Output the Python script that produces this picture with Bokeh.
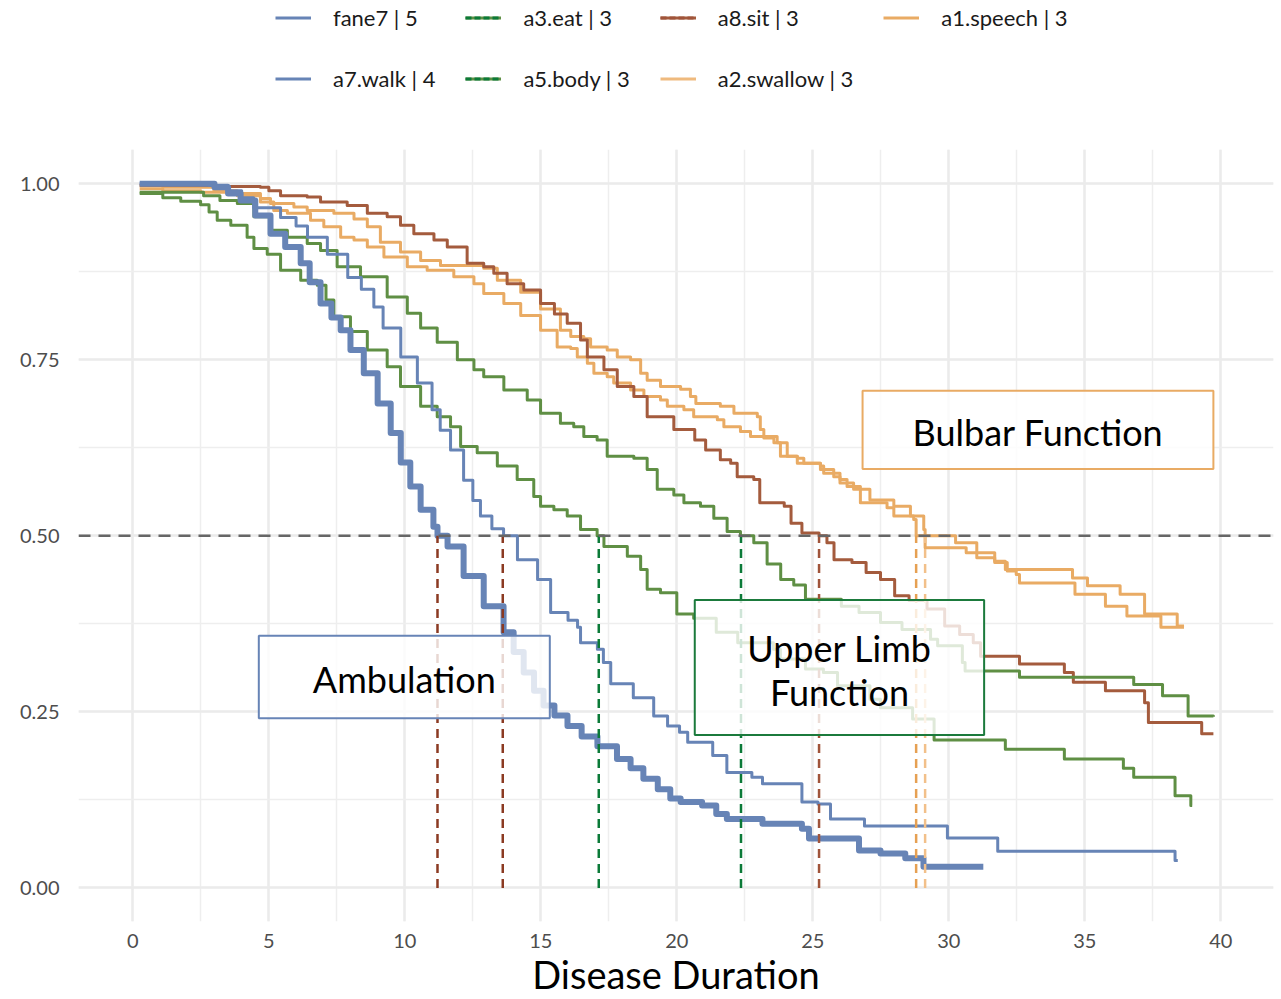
from bokeh.plotting import figure
from bokeh.layouts import column
from bokeh.models import (Range1d, Legend, LegendItem, BoxAnnotation, Label, Span,
                          SingleIntervalTicker, NumeralTickFormatter)
from bokeh.embed import file_html
from bokeh.resources import INLINE

FONT = "Lato"
NAN = float("nan")

# ---------------- data (time, survival) ----------------
fane7 = [(0.25, 1.0), (3.0, 0.995), (3.5, 0.986), (3.96, 0.976), (4.5, 0.955), (5.06, 0.929),
         (5.6, 0.91), (6.17, 0.887), (6.5, 0.86), (6.9, 0.83), (7.3, 0.81), (7.64, 0.792),
         (8.0, 0.764), (8.49, 0.731), (9.0, 0.688), (9.48, 0.646), (9.85, 0.604), (10.2, 0.57),
         (10.58, 0.537), (11.05, 0.513), (11.2, 0.50), (11.57, 0.485), (12.16, 0.443), (12.9, 0.40),
         (13.63, 0.363), (14.0, 0.335), (14.37, 0.306), (14.75, 0.28), (15.1, 0.259), (15.5, 0.245),
         (15.98, 0.23), (16.5, 0.215), (17.08, 0.201), (17.8, 0.183), (18.3, 0.17), (18.77, 0.155),
         (19.3, 0.14), (19.76, 0.127), (20.14, 0.122), (20.93, 0.117), (21.45, 0.105), (21.84, 0.098),
         (23.15, 0.091), (24.6, 0.084), (24.86, 0.07), (26.57, 0.07), (26.7, 0.053), (27.49, 0.049),
         (28.4, 0.042), (29.07, 0.030), (31.27, 0.030)]

a7_walk = [(0.25, 1.0), (2.8, 0.998), (3.5, 0.99), (4.0, 0.98), (4.44, 0.966), (5.43, 0.952),
           (6.0, 0.94), (6.42, 0.924), (7.15, 0.90), (7.9, 0.867), (8.4, 0.85), (8.86, 0.825),
           (9.2, 0.795), (9.85, 0.754), (10.46, 0.717), (11.0, 0.679), (11.3, 0.65), (11.68, 0.622),
           (12.16, 0.579), (12.5, 0.55), (12.78, 0.528), (13.2, 0.51), (13.63, 0.50), (14.14, 0.466),
           (14.88, 0.438), (15.36, 0.391), (16.0, 0.38), (16.35, 0.37), (16.46, 0.348), (17.08, 0.339),
           (17.3, 0.32), (17.57, 0.29), (18.4, 0.27), (19.15, 0.244), (19.66, 0.23), (20.1, 0.221),
           (20.4, 0.207), (21.32, 0.188), (21.84, 0.164), (22.76, 0.157), (23.15, 0.148), (24.6, 0.122),
           (25.19, 0.119), (25.65, 0.098), (26.9, 0.088), (29.95, 0.071), (31.8, 0.052), (38.32, 0.039),
           (38.42, 0.039)]

a3_eat = [(0.25, 0.986), (1.1, 0.98), (1.76, 0.975), (2.49, 0.97), (2.8, 0.96), (3.1, 0.948),
          (3.6, 0.941), (4.2, 0.924), (4.45, 0.908), (4.94, 0.90), (5.43, 0.877), (6.17, 0.863),
          (6.78, 0.856), (7.1, 0.835), (7.39, 0.811), (8.0, 0.79), (8.62, 0.764), (9.35, 0.74),
          (9.84, 0.712), (10.58, 0.684), (11.19, 0.669), (11.68, 0.655), (12.05, 0.627), (12.66, 0.618),
          (13.4, 0.599), (14.13, 0.58), (14.74, 0.556), (14.99, 0.542), (15.48, 0.537), (15.97, 0.528),
          (16.46, 0.509), (17.07, 0.50), (17.32, 0.485), (18.18, 0.471), (18.67, 0.452), (18.91, 0.424),
          (19.4, 0.419), (20.0, 0.389), (20.62, 0.383), (21.45, 0.363), (22.24, 0.348), (23.55, 0.339),
          (23.81, 0.325), (24.73, 0.311), (25.39, 0.306), (25.91, 0.287), (27.1, 0.268), (27.49, 0.256),
          (28.67, 0.24), (29.46, 0.21), (32.08, 0.197), (34.25, 0.183), (36.42, 0.17), (36.8, 0.157),
          (38.32, 0.131), (38.9, 0.117), (38.95, 0.117)]

a5_body = [(0.25, 0.988), (2.6, 0.983), (3.2, 0.976), (3.84, 0.972), (4.45, 0.953), (5.06, 0.934),
           (5.68, 0.924), (6.41, 0.915), (6.9, 0.905), (7.51, 0.882), (8.37, 0.868), (9.35, 0.839),
           (10.09, 0.816), (10.58, 0.795), (11.19, 0.775), (11.93, 0.75), (12.54, 0.736), (12.9, 0.726),
           (13.64, 0.707), (14.5, 0.693), (14.99, 0.674), (15.72, 0.66), (16.21, 0.655), (16.58, 0.641),
           (17.07, 0.636), (17.44, 0.613), (18.42, 0.61), (18.91, 0.594), (19.28, 0.566), (19.89, 0.558),
           (20.26, 0.547), (20.87, 0.542), (21.36, 0.525), (21.85, 0.506), (22.34, 0.50), (22.83, 0.49),
           (23.32, 0.46), (23.82, 0.438), (24.3, 0.43), (24.73, 0.41), (26.05, 0.40), (26.7, 0.391),
           (27.49, 0.377), (28.28, 0.367), (29.33, 0.353), (29.59, 0.344), (30.5, 0.32), (30.6, 0.308),
           (32.6, 0.299), (36.8, 0.289), (37.86, 0.273), (38.8, 0.244), (39.73, 0.243)]

a8_sit = [(0.25, 0.998), (3.0, 0.996), (4.69, 0.995), (5.0, 0.99), (5.43, 0.983), (6.41, 0.981),
          (6.9, 0.974), (7.88, 0.969), (8.62, 0.958), (9.35, 0.953), (9.84, 0.941), (10.33, 0.929),
          (11.07, 0.92), (11.56, 0.91), (12.29, 0.887), (12.9, 0.882), (13.27, 0.873), (13.76, 0.858),
          (14.37, 0.849), (14.99, 0.83), (15.5, 0.815), (15.97, 0.802), (16.46, 0.778), (16.71, 0.754),
          (17.32, 0.736), (17.81, 0.712), (18.42, 0.698), (18.91, 0.669), (19.89, 0.651), (20.66, 0.636),
          (21.06, 0.622), (21.6, 0.608), (21.98, 0.603), (22.22, 0.584), (22.83, 0.58), (23.05, 0.547),
          (23.95, 0.542), (24.2, 0.518), (24.6, 0.504), (25.23, 0.50), (25.52, 0.49), (25.78, 0.466),
          (26.44, 0.462), (26.96, 0.448), (27.49, 0.438), (28.01, 0.415), (28.54, 0.408), (29.2, 0.396),
          (29.85, 0.372), (30.4, 0.36), (30.9, 0.348), (31.17, 0.329), (32.6, 0.318), (34.25, 0.306),
          (34.58, 0.292), (35.76, 0.28), (37.2, 0.263), (37.34, 0.235), (39.3, 0.219), (39.73, 0.219)]

a1_speech = [(0.25, 0.993), (1.1, 0.99), (2.5, 0.988), (3.84, 0.983), (4.69, 0.974), (5.18, 0.962),
             (5.68, 0.958), (6.53, 0.948), (7.02, 0.939), (7.64, 0.924), (8.13, 0.92), (8.62, 0.91),
             (9.23, 0.896), (10.09, 0.882), (10.82, 0.877), (11.8, 0.868), (12.54, 0.858), (12.9, 0.844),
             (13.64, 0.83), (14.26, 0.813), (14.99, 0.792), (15.6, 0.768), (16.1, 0.766), (16.34, 0.754),
             (16.71, 0.745), (16.95, 0.731), (17.44, 0.726), (17.68, 0.717), (18.3, 0.707), (18.79, 0.698),
             (19.4, 0.693), (19.65, 0.684), (20.26, 0.679), (20.62, 0.669), (21.49, 0.665), (21.73, 0.655),
             (22.34, 0.648), (22.71, 0.641), (23.2, 0.639), (23.57, 0.632), (23.81, 0.613), (24.43, 0.61),
             (24.67, 0.603), (25.28, 0.599), (25.4, 0.589), (26.0, 0.575), (26.5, 0.566), (26.75, 0.547),
             (27.73, 0.54), (27.98, 0.528), (28.71, 0.523), (28.8, 0.50), (30.25, 0.49), (31.03, 0.476),
             (31.69, 0.464), (32.08, 0.452), (34.55, 0.44), (35.1, 0.429), (36.3, 0.417), (37.2, 0.389),
             (38.4, 0.372), (38.65, 0.372)]

a2_swallow = [(0.25, 0.997), (1.1, 0.995), (2.98, 0.99), (3.84, 0.986), (4.69, 0.979), (5.06, 0.972),
              (5.92, 0.967), (6.41, 0.962), (7.39, 0.958), (8.13, 0.95), (8.62, 0.939), (9.1, 0.917),
              (9.84, 0.903), (10.58, 0.891), (11.31, 0.884), (12.9, 0.88), (13.4, 0.863), (14.26, 0.846),
              (14.99, 0.822), (15.72, 0.792), (16.1, 0.783), (16.58, 0.78), (16.83, 0.768), (17.44, 0.764),
              (17.81, 0.754), (18.3, 0.75), (18.67, 0.731), (18.91, 0.721), (19.4, 0.712), (20.14, 0.708),
              (20.5, 0.698), (20.7, 0.688), (21.6, 0.684), (22.1, 0.674), (22.96, 0.669), (23.07, 0.651),
              (23.2, 0.641), (23.69, 0.632), (24.06, 0.613), (24.43, 0.603), (25.28, 0.594), (25.77, 0.584),
              (26.0, 0.58), (26.26, 0.57), (26.75, 0.566), (27.1, 0.551), (27.98, 0.542), (28.59, 0.528),
              (29.08, 0.509), (29.13, 0.483), (30.64, 0.476), (31.03, 0.469), (31.69, 0.462), (32.15, 0.45),
              (32.48, 0.445), (32.6, 0.433), (34.64, 0.417), (35.76, 0.40), (36.55, 0.386), (37.8, 0.37),
              (38.65, 0.37)]

# median survival times (where each curve reaches 0.5)
median_names = ["fane7", "a7.walk", "a3.eat", "a5.body", "a8.sit", "a1.speech", "a2.swallow"]
median_times = [11.2, 13.6, 17.13, 22.36, 25.23, 28.8, 29.13]
median_level = 0.5

legend_labels = ["fane7 | 5", "a3.eat | 3", "a8.sit | 3", "a1.speech | 3",
                 "a7.walk | 4", "a5.body | 3", "a2.swallow | 3"]

# annotation boxes (left, right, bottom, top)
box_ambulation = (4.63, 15.33, 0.241, 0.358)
box_upper = (20.66, 31.30, 0.217, 0.409)
box_bulbar = (26.83, 39.73, 0.595, 0.706)

# ---------------- styling ----------------
BLUE = "#6784B6"
GREEN = "#5F8F44"
BROWN = "#A45B3D"
ORANGE = "#E9AB64"
ORANGE_L = "#EFBA7E"
MED_RED = "#8B3A22"
MED_GREEN = "#0B7A38"
MED_BROWN = "#A0543A"
MED_OR1 = "#E6A052"
MED_OR2 = "#F2C08A"

W = 1281
LEG_H = 110
MAIN_H = 999 - LEG_H
LEFT = 78

# ---------- main plot ----------
p = figure(width=W, height=MAIN_H, title=None,
           x_range=Range1d(-2.0, 41.94), y_range=Range1d(-0.0477, 1.0486),
           output_backend="svg", toolbar_location=None,
           min_border_left=LEFT, min_border_right=8, min_border_top=149 - LEG_H,
           min_border_bottom=76)
p.outline_line_color = None
p.background_fill_color = "white"
p.border_fill_color = "white"

p.xaxis.ticker = SingleIntervalTicker(interval=5, num_minor_ticks=2)
p.yaxis.ticker = SingleIntervalTicker(interval=0.25, num_minor_ticks=2)
p.yaxis.formatter = NumeralTickFormatter(format="0.00")
for ax in (p.xaxis, p.yaxis):
    ax.axis_line_color = None
    ax.major_tick_line_color = None
    ax.minor_tick_line_color = None
    ax.major_tick_out = 0
    ax.major_tick_in = 0
    ax.major_label_text_font = FONT
    ax.major_label_text_font_size = "20px"
    ax.major_label_text_color = "#4D4D4D"
p.xaxis.major_label_standoff = 8
p.yaxis.major_label_standoff = 15
p.xaxis.axis_label = "Disease Duration"
p.xaxis.axis_label_standoff = 0
p.xaxis.axis_label_text_font = FONT
p.xaxis.axis_label_text_font_size = "38px"
p.xaxis.axis_label_text_font_style = "normal"
p.xaxis.axis_label_text_color = "black"

for g in (p.xgrid, p.ygrid):
    g.grid_line_color = "#EBEBEB"
    g.grid_line_width = 2.5
    g.minor_grid_line_color = "#EEEEEE"
    g.minor_grid_line_width = 1.5


def unzip(pairs):
    return [a for a, _ in pairs], [b for _, b in pairs]


curves = [(a2_swallow, ORANGE, 3), (a1_speech, ORANGE, 3), (a8_sit, BROWN, 3),
          (a5_body, GREEN, 3), (a3_eat, GREEN, 3), (a7_walk, BLUE, 3), (fane7, BLUE, 6)]
for data, col, w in curves:
    xs, ys = unzip(data)
    p.step(xs, ys, mode="after", line_color=col, line_width=w, line_join="round")

median_colors = [MED_RED, MED_RED, MED_GREEN, MED_GREEN, MED_BROWN, MED_OR1, MED_OR2]
p.segment(x0=median_times, y0=[0] * len(median_times), x1=median_times,
          y1=[median_level] * len(median_times), line_color=median_colors,
          line_width=2.5, line_dash="9 6")

p.add_layout(Span(location=median_level, dimension="width", line_color="#666666",
                  line_width=2.5, line_dash="12 8"))

for (l, r, b, t), col in ((box_ambulation, BLUE), (box_upper, "#1B7A3C"), (box_bulbar, ORANGE)):
    p.add_layout(BoxAnnotation(left=l, right=r, bottom=b, top=t, fill_color="white",
                               fill_alpha=0.8, line_color=col, line_width=2, line_alpha=1.0))

for x, y, txt in ((9.98, 0.296, "Ambulation"), (25.98, 0.341, "Upper Limb"),
                  (25.98, 0.278, "Function"), (33.28, 0.648, "Bulbar Function")):
    p.add_layout(Label(x=x, y=y, text=txt, text_align="center", text_baseline="middle",
                       text_font=FONT, text_font_size="36px", text_color="black"))

# ---------- legend strip (above) ----------
pl = figure(width=W, height=LEG_H, title=None, x_range=Range1d(0, 1), y_range=Range1d(0, 1),
            x_axis_type=None, y_axis_type=None, output_backend="svg", toolbar_location=None,
            min_border_left=0, min_border_right=0, min_border_top=0, min_border_bottom=0)
pl.outline_line_color = None
pl.xgrid.visible = False
pl.ygrid.visible = False

key_styles = {
    "fane7 | 5": [(BLUE, None)],
    "a3.eat | 3": [(GREEN, None), (MED_GREEN, "6 3")],
    "a8.sit | 3": [(BROWN, None), (MED_BROWN, "6 3")],
    "a1.speech | 3": [(ORANGE, None)],
    "a7.walk | 4": [(BLUE, None)],
    "a5.body | 3": [(GREEN, None), (MED_GREEN, "6 3")],
    "a2.swallow | 3": [(ORANGE_L, None)],
}
items = []
for lab in legend_labels:
    rs = []
    for col, dash in key_styles[lab]:
        if dash is None:
            rs.append(pl.line([NAN], [NAN], line_color=col, line_width=3))
        else:
            rs.append(pl.line([NAN], [NAN], line_color=col, line_width=3, line_dash=dash))
    items.append(LegendItem(label=lab, renderers=rs))

legend = Legend(items=items, orientation="horizontal", ncols=4, location=(275 - LEFT, 16),
                glyph_width=36, glyph_height=31, label_height=31, label_standoff=22,
                spacing=30, padding=0, margin=0, border_line_alpha=0,
                background_fill_alpha=0, label_text_font=FONT, label_text_font_size="22px",
                label_text_color="#1A1A1A")
pl.add_layout(legend, "center")

layout = column(pl, p, spacing=0)
open("out.html", "w").write(file_html(layout, INLINE))
